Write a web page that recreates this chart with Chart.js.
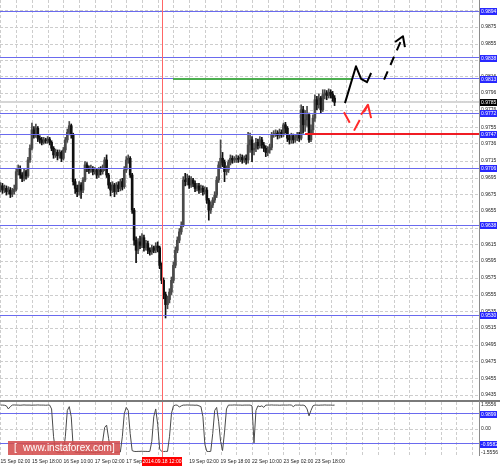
<!DOCTYPE html>
<html>
<head>
<meta charset="utf-8">
<script src="https://cdn.jsdelivr.net/npm/chart.js@4"></script>
<style>
  html, body { margin: 0; padding: 0; background: #fff; }
  #wrap { position: relative; width: 500px; height: 466px; overflow: hidden; }
  #main { position: absolute; left: 0; top: 0; }
  #osc { position: absolute; left: 0; top: 401px; }
</style>
</head>
<body>
<div id="wrap">
  <canvas id="main" width="500" height="401"></canvas>
  <canvas id="osc" width="500" height="65"></canvas>
</div>
<script>
// H1 bars, bar 0 = 15 Sep 02:00
const firstOpen = 0.9682;
const closes = [
  0.9685,0.9680,0.9682,0.9678,0.9680,0.9675,0.9678,0.9681,0.9702,0.9706,
  0.9698,0.9694,0.9702,0.9697,0.9716,0.9730,0.9752,0.9746,0.9754,0.9742,
  0.9740,0.9737,0.9740,0.9739,0.9741,0.9737,0.9730,0.9722,0.9725,0.9721,
  0.9725,0.9718,0.9728,0.9740,0.9749,0.9757,0.9746,0.9690,0.9682,0.9678,
  0.9686,0.9680,0.9692,0.9710,0.9706,0.9704,0.9706,0.9702,0.9704,0.9698,
  0.9704,0.9702,0.9706,0.9716,0.9698,0.9686,0.9680,0.9686,0.9678,0.9686,
  0.9682,0.9690,0.9684,0.9704,0.9716,0.9718,0.9698,0.9656,0.9620,0.9608,
  0.9618,0.9614,0.9623,0.9611,0.9616,0.9608,0.9606,0.9611,0.9608,0.9613,
  0.9611,0.9590,0.9572,0.9555,0.9543,0.9549,0.9558,0.9572,0.9590,0.9608,
  0.9620,0.9630,0.9638,0.9692,0.9690,0.9694,0.9686,0.9692,0.9688,0.9682,
  0.9685,0.9680,0.9682,0.9678,0.9680,0.9668,0.9656,0.9662,0.9668,0.9674,
  0.9692,0.9710,0.9718,0.9713,0.9702,0.9704,0.9713,0.9718,0.9716,0.9716,
  0.9718,0.9717,0.9719,0.9716,0.9718,0.9716,0.9734,0.9740,0.9728,0.9730,
  0.9737,0.9733,0.9740,0.9734,0.9730,0.9725,0.9728,0.9731,0.9746,0.9747,
  0.9748,0.9745,0.9749,0.9747,0.9758,0.9754,0.9742,0.9740,0.9745,0.9740,
  0.9743,0.9746,0.9742,0.9776,0.9758,0.9764,0.9770,0.9740,0.9752,0.9766,
  0.9788,0.9782,0.9790,0.9776,0.9794,0.9796,0.9793,0.9797,0.9795,0.9790,0.9785
];
const highs = [
  0.9689,0.9688,0.9686,0.9685,0.9684,0.9683,0.9682,0.9686,0.9706,0.9710,
  0.9709,0.9701,0.9705,0.9704,0.9719,0.9734,0.9760,0.9756,0.9759,0.9756,
  0.9745,0.9743,0.9743,0.9742,0.9744,0.9743,0.9739,0.9732,0.9729,0.9728,
  0.9728,0.9727,0.9731,0.9743,0.9753,0.9762,0.9759,0.9748,0.9693,0.9686,
  0.9690,0.9689,0.9695,0.9714,0.9713,0.9709,0.9710,0.9708,0.9707,0.9706,
  0.9707,0.9708,0.9710,0.9719,0.9722,0.9700,0.9689,0.9690,0.9688,0.9689,
  0.9690,0.9693,0.9694,0.9708,0.9720,0.9722,0.9720,0.9700,0.9658,0.9624,
  0.9622,0.9625,0.9628,0.9626,0.9620,0.9619,0.9611,0.9614,0.9613,0.9617,
  0.9618,0.9613,0.9593,0.9575,0.9558,0.9553,0.9562,0.9576,0.9594,0.9612,
  0.9624,0.9634,0.9642,0.9696,0.9700,0.9699,0.9697,0.9696,0.9694,0.9691,
  0.9688,0.9688,0.9686,0.9685,0.9684,0.9683,0.9670,0.9666,0.9671,0.9678,
  0.9696,0.9714,0.9740,0.9725,0.9716,0.9709,0.9716,0.9722,0.9721,0.9720,
  0.9722,0.9721,0.9723,0.9722,0.9721,0.9722,0.9749,0.9748,0.9744,0.9736,
  0.9742,0.9741,0.9744,0.9743,0.9737,0.9733,0.9732,0.9735,0.9749,0.9751,
  0.9752,0.9751,0.9753,0.9752,0.9760,0.9761,0.9756,0.9746,0.9748,0.9747,
  0.9746,0.9749,0.9749,0.9782,0.9780,0.9775,0.9780,0.9772,0.9758,0.9770,
  0.9794,0.9792,0.9795,0.9792,0.9800,0.9800,0.9799,0.9801,0.9800,0.9798,0.9793
];
const lows = [
  0.9678,0.9676,0.9677,0.9674,0.9675,0.9671,0.9672,0.9675,0.9679,0.9698,
  0.9694,0.9690,0.9691,0.9693,0.9695,0.9713,0.9728,0.9742,0.9743,0.9738,
  0.9736,0.9734,0.9735,0.9736,0.9736,0.9734,0.9727,0.9718,0.9719,0.9716,
  0.9718,0.9714,0.9716,0.9725,0.9737,0.9746,0.9742,0.9686,0.9676,0.9672,
  0.9674,0.9670,0.9677,0.9690,0.9702,0.9700,0.9701,0.9698,0.9699,0.9694,
  0.9695,0.9698,0.9699,0.9703,0.9695,0.9682,0.9673,0.9677,0.9672,0.9675,
  0.9678,0.9679,0.9680,0.9682,0.9701,0.9712,0.9695,0.9652,0.9614,0.9593,
  0.9604,0.9610,0.9611,0.9607,0.9608,0.9604,0.9602,0.9603,0.9605,0.9605,
  0.9606,0.9586,0.9568,0.9550,0.9527,0.9538,0.9545,0.9555,0.9569,0.9587,
  0.9605,0.9617,0.9627,0.9636,0.9685,0.9686,0.9682,0.9683,0.9684,0.9678,
  0.9679,0.9676,0.9677,0.9674,0.9675,0.9664,0.9644,0.9652,0.9659,0.9665,
  0.9671,0.9689,0.9706,0.9708,0.9690,0.9698,0.9701,0.9710,0.9712,0.9713,
  0.9713,0.9713,0.9714,0.9712,0.9713,0.9711,0.9712,0.9725,0.9714,0.9722,
  0.9726,0.9729,0.9730,0.9730,0.9726,0.9720,0.9721,0.9724,0.9728,0.9743,
  0.9744,0.9741,0.9742,0.9743,0.9744,0.9748,0.9738,0.9735,0.9736,0.9736,
  0.9737,0.9739,0.9738,0.9740,0.9748,0.9750,0.9756,0.9737,0.9738,0.9748,
  0.9762,0.9776,0.9778,0.9772,0.9774,0.9789,0.9788,0.9790,0.9790,0.9786,0.9781
];
// oscillator in the lower window
const oscValues = [
  1.55,1.55,1.54,1.50,1.30,1.45,1.55,1.56,1.55,1.55,
  1.54,1.55,1.56,1.55,1.55,1.55,1.54,1.55,1.55,1.56,
  1.55,1.55,1.55,1.54,1.55,1.55,1.30,-0.50,-1.45,-1.50,
  -1.52,-1.50,-1.48,-0.50,1.20,1.45,0.80,-1.20,-1.50,-1.52,
  -1.50,-1.50,-1.51,-1.50,-1.50,-1.49,-1.50,-1.52,-1.50,-1.50,
  -1.51,-1.50,-0.80,0.10,0.25,-0.60,-1.40,-1.50,-1.51,-1.50,
  -1.50,-1.49,-0.50,1.00,1.40,1.20,-0.30,-1.40,-1.45,-1.46,
  -1.45,-1.45,-1.44,-1.45,-1.45,-1.46,-1.45,-0.80,0.80,1.30,
  0.30,-1.30,-1.45,-1.46,-1.45,-1.45,-0.50,1.00,1.50,1.55,
  1.55,1.42,1.50,1.55,1.55,1.56,1.55,1.55,1.55,1.54,
  1.55,1.50,1.45,0.80,-1.00,-1.45,-1.46,-1.45,-0.30,1.20,
  1.40,0.50,-0.80,-1.40,-0.20,1.30,1.55,1.55,1.55,1.56,
  1.55,1.55,1.55,1.54,1.55,1.55,1.55,1.55,1.50,-0.90,
  1.20,1.50,1.45,1.50,1.40,1.55,1.55,1.55,1.56,1.55,
  1.55,1.55,1.54,1.55,1.55,1.55,1.55,1.56,1.55,1.45,
  1.55,1.55,1.55,1.54,1.55,1.50,1.30,0.85,1.20,1.50,
  1.55,1.55,1.54,1.55,1.55,1.56,1.55,1.55,1.55,1.54,1.55
];

// axis labels
const timeLabels = ['15 Sep 02:00', '15 Sep 18:00', '16 Sep 10:00', '17 Sep 02:00', '17 Sep 18:00',
  '18 Sep 10:00', '19 Sep 02:00', '19 Sep 18:00', '22 Sep 10:00', '23 Sep 02:00', '23 Sep 18:00'];
const priceTicks = [0.9895, 0.9875, 0.9855, 0.9835, 0.9816, 0.9796, 0.9776, 0.9755, 0.9736, 0.9715,
  0.9695, 0.9675, 0.9655, 0.9635, 0.9615, 0.9595, 0.9575, 0.9555, 0.9535, 0.9515,
  0.9495, 0.9475, 0.9455, 0.9435];
const oscTicks = [1.5556, 0, -1.5556];

// drawn objects
const levels = [0.9894, 0.9838, 0.9813, 0.9772, 0.9747, 0.9706, 0.9638, 0.9530];
const oscLevels = [0.9899, -0.9582];
const greenLevel = { price: 0.9813, from: 87.8, to: 179.4 };
const redLevel = { price: 0.9747, from: 155 };
const markerBar = 82;
const markerText = '2014.09.18 12:00';
const blackPath = [[175.3, 0.9784], [180.9, 0.9828], [183.5, 0.9813], [186.5, 0.9809], [188.6, 0.9820]];
const blackDash = [[195.2, 0.9812], [204.8, 0.9864]];
const blackHead = [[200.8, 0.9857], [204.8, 0.9864], [205.8, 0.9851]];
const redPath = [[174.8, 0.9773], [179.9, 0.9751], [187.0, 0.9782]];
const redHead = [[183.5, 0.9770], [187.0, 0.9782], [188.6, 0.9766]];

const opens = closes.map((c, i) => i ? closes[i - 1] : firstOpen);
const lastPrice = closes[closes.length - 1];
const barColors = closes.map((c, i) => c >= opens[i] ? '#4a4a4a' : '#101010');

const X_MIN = -0.25, X_MAX = 243.5;
const gridBars = [];
for (let b = 0; b <= X_MAX; b += 8) gridBars.push(b);

const FONT = { family: 'Liberation Sans', size: 5 };
const GRID = '#cdcdcd';

function polyline(chart, pts, color, dash) {
  const { ctx, scales } = chart;
  ctx.save();
  ctx.strokeStyle = color;
  ctx.lineWidth = 2;
  ctx.lineJoin = 'round';
  ctx.setLineDash(dash || []);
  ctx.beginPath();
  pts.forEach(([i, p], k) => {
    const x = scales.x.getPixelForValue(i), y = scales.y.getPixelForValue(p);
    k ? ctx.lineTo(x, y) : ctx.moveTo(x, y);
  });
  ctx.stroke();
  ctx.restore();
}

function tag(ctx, y, text, bg) {
  ctx.fillStyle = bg;
  ctx.fillRect(480, Math.round(y) - 3, 17, 7);
  ctx.fillStyle = '#fff';
  ctx.font = '5px "Liberation Sans"';
  ctx.textBaseline = 'middle';
  ctx.textAlign = 'left';
  ctx.fillText(text, 481, Math.round(y) + 0.5);
}

function hLine(ctx, x1, x2, y, color, w) {
  ctx.fillStyle = color;
  ctx.fillRect(x1, Math.round(y - w / 2), x2 - x1, w);
}

// dotted MT4-style grid, drawn by hand
function drawGrid(chart, yTicks) {
  const { ctx, chartArea: a, scales } = chart;
  ctx.save();
  ctx.strokeStyle = GRID;
  ctx.lineWidth = 1;
  ctx.setLineDash([3, 2]);
  ctx.beginPath();
  gridBars.forEach(b => {
    const x = Math.round(scales.x.getPixelForValue(b)) + 0.5;
    ctx.moveTo(x, a.top); ctx.lineTo(x, a.bottom);
  });
  yTicks.forEach(v => {
    const y = Math.round(scales.y.getPixelForValue(v)) + 0.5;
    ctx.moveTo(a.left, y); ctx.lineTo(a.right, y);
  });
  ctx.stroke();
  ctx.restore();
}

const mainOverlay = {
  id: 'mainOverlay',
  beforeDatasetsDraw(chart) {
    const { ctx, chartArea: a, scales } = chart;
    drawGrid(chart, priceTicks);
    ctx.save();
    hLine(ctx, a.left, a.right, scales.y.getPixelForValue(lastPrice), '#d6d6d6', 2);
    ctx.restore();
  },
  afterDatasetsDraw(chart) {
    const { ctx, chartArea: a, scales } = chart;
    ctx.save();
    levels.forEach(l => hLine(ctx, a.left, a.right, scales.y.getPixelForValue(l), '#6a6aee', 1));
    hLine(ctx, scales.x.getPixelForValue(greenLevel.from), scales.x.getPixelForValue(greenLevel.to),
      scales.y.getPixelForValue(greenLevel.price), '#4caf50', 2);
    hLine(ctx, scales.x.getPixelForValue(redLevel.from), a.right,
      scales.y.getPixelForValue(redLevel.price), '#f01c24', 2);
    ctx.fillStyle = '#ff6666';
    ctx.fillRect(Math.round(scales.x.getPixelForValue(markerBar)), a.top, 1, a.bottom - a.top);
    ctx.restore();

    polyline(chart, blackPath, '#000');
    polyline(chart, blackDash, '#000', [9, 7]);
    polyline(chart, blackHead, '#000');
    polyline(chart, redPath, '#ff2a2a', [12, 9]);
    polyline(chart, redHead, '#ff2a2a');
  },
  afterDraw(chart) {
    const { ctx, chartArea: a, scales } = chart;
    ctx.save();
    ctx.fillStyle = '#8c8c8c';
    ctx.fillRect(a.right, 0, 1, a.bottom);
    ctx.fillStyle = '#7a7a7a';
    ctx.fillRect(0, a.bottom, 500, 1);
    levels.forEach(l => tag(ctx, scales.y.getPixelForValue(l), l.toFixed(4), '#2828ff'));
    tag(ctx, scales.y.getPixelForValue(lastPrice), lastPrice.toFixed(4), '#000');
    ctx.restore();
  }
};

const oscOverlay = {
  id: 'oscOverlay',
  beforeDatasetsDraw(chart) {
    const { ctx, chartArea: a, scales } = chart;
    drawGrid(chart, [0]);
    ctx.save();
    oscLevels.forEach(l => hLine(ctx, a.left, a.right, scales.y.getPixelForValue(l), '#6a6aee', 1));
    ctx.restore();
  },
  afterDatasetsDraw(chart) {
    const { ctx, scales } = chart;
    ctx.save();
    ctx.fillStyle = '#ff6666';
    ctx.fillRect(Math.round(scales.x.getPixelForValue(markerBar)), 0, 1, chart.height);
    ctx.restore();
  },
  afterDraw(chart) {
    const { ctx, chartArea: a, scales } = chart;
    ctx.save();
    ctx.fillStyle = '#7a7a7a';
    ctx.fillRect(0, 0, 500, 1);
    ctx.fillStyle = '#8c8c8c';
    ctx.fillRect(a.right, 0, 1, a.bottom);
    oscLevels.forEach(l => tag(ctx, scales.y.getPixelForValue(l), l.toFixed(4), '#2828ff'));

    // date marker on the time axis
    const mx = Math.round(scales.x.getPixelForValue(markerBar));
    ctx.fillStyle = '#ff0000';
    ctx.fillRect(mx - 20, a.bottom + 1, 40, 9);
    ctx.fillStyle = '#fff';
    ctx.font = '5px "Liberation Sans"';
    ctx.textAlign = 'center';
    ctx.textBaseline = 'middle';
    ctx.fillText(markerText, mx, a.bottom + 6);

    // watermark
    ctx.fillStyle = 'rgba(212,78,78,0.88)';
    ctx.fillRect(8, 40, 112, 14);
    ctx.fillStyle = '#fff';
    ctx.font = '10px "Liberation Sans"';
    ctx.textAlign = 'left';
    ctx.fillText('[', 14, 47.5);
    ctx.fillText('www.instaforex.com', 23, 47.5);
    ctx.fillText(']', 112, 47.5);
    ctx.restore();
  }
};

function xAxis(showLabels) {
  return {
    type: 'linear', min: X_MIN, max: X_MAX, offset: false,
    afterBuildTicks: s => { s.ticks = gridBars.map(v => ({ value: v })); },
    afterFit: s => { s.height = showLabels ? 10 : 0; s.paddingLeft = 0; s.paddingRight = 0; },
    grid: { color: 'rgba(0,0,0,0)', drawTicks: false, offset: false },
    border: { display: false },
    ticks: {
      display: showLabels, autoSkip: false, maxRotation: 0, minRotation: 0, align: 'start',
      padding: 3, color: '#222', font: FONT,
      callback: v => (v % 16 === 0 && timeLabels[v / 16] && Math.abs(v - markerBar) >= 8) ? timeLabels[v / 16] : ''
    }
  };
}

function yAxis(min, max, ticks, fmt) {
  return {
    position: 'right', min, max, beginAtZero: false,
    afterBuildTicks: s => { s.ticks = ticks.map(v => ({ value: v })); },
    afterFit: s => { s.width = 21; s.paddingTop = 0; s.paddingBottom = 0; },
    grid: { color: 'rgba(0,0,0,0)', drawTicks: false },
    border: { display: false },
    ticks: { padding: 2, color: '#222', font: FONT, callback: fmt }
  };
}

new Chart(document.getElementById('main'), {
  type: 'bar',
  data: {
    datasets: [{
      data: closes.map((c, i) => ({ x: i, y: [lows[i], highs[i]] })),
      backgroundColor: barColors, barThickness: 1, grouped: false
    }, {
      data: closes.map((c, i) => ({ x: i, y: [opens[i], c] })),
      backgroundColor: barColors, barThickness: 2, grouped: false
    }]
  },
  options: {
    responsive: false, animation: false,
    layout: { padding: { left: 0, right: 0, top: 0, bottom: 1 } },
    plugins: { legend: { display: false }, tooltip: { enabled: false } },
    scales: {
      x: xAxis(false),
      y: yAxis(0.94289, 0.99073, priceTicks, v => v.toFixed(4))
    }
  },
  plugins: [mainOverlay]
});

new Chart(document.getElementById('osc'), {
  type: 'line',
  data: {
    datasets: [{
      data: oscValues.map((v, i) => ({ x: i, y: v })),
      borderColor: '#4a4a4a', borderWidth: 1, pointRadius: 0, tension: 0
    }]
  },
  options: {
    responsive: false, animation: false,
    layout: { padding: { left: 0, right: 0, top: 1, bottom: 0 } },
    plugins: { legend: { display: false }, tooltip: { enabled: false } },
    scales: {
      x: xAxis(true),
      y: yAxis(-1.75, 1.75, oscTicks, v => v === 0 ? '0.00' : v.toFixed(4))
    }
  },
  plugins: [oscOverlay]
});
</script>
</body>
</html>
